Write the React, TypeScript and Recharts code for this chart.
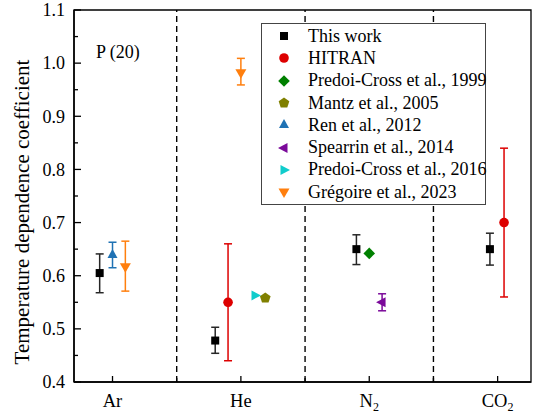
import React from 'react'
import {
  ComposedChart, Scatter, XAxis, YAxis, ErrorBar, ReferenceLine, ReferenceArea, Legend, Label,
} from 'recharts'

const FONT = '"Liberation Serif", "Times New Roman", serif'

// category positions on the x axis
const categories = ['Ar', 'He', 'N2', 'CO2']
const categoryX = [1, 2, 3, 4]
const separators = [1.5, 2.5, 3.5]
const xTicks = [1, 1.5, 2, 2.5, 3, 3.5, 4]
const yTicks = [0.4, 0.45, 0.5, 0.55, 0.6, 0.65, 0.7, 0.75, 0.8, 0.85, 0.9, 0.95, 1.0, 1.05, 1.1]

// series: x position, value, lower / upper error bound
const thisWorkX = [0.9, 1.8, 2.9, 3.94]
const thisWorkY = [0.605, 0.478, 0.65, 0.65]
const thisWorkLo = [0.568, 0.454, 0.621, 0.62]
const thisWorkHi = [0.641, 0.503, 0.677, 0.68]

const hitranX = [1.9, 4.05]
const hitranY = [0.55, 0.7]
const hitranLo = [0.44, 0.56]
const hitranHi = [0.66, 0.84]

const predoi1999X = [3.0]
const predoi1999Y = [0.642]

const mantzX = [2.19]
const mantzY = [0.558]

const renX = [1.0]
const renY = [0.639]
const renLo = [0.615]
const renHi = [0.663]

const spearrinX = [3.1]
const spearrinY = [0.55]
const spearrinLo = [0.534]
const spearrinHi = [0.566]

const predoi2016X = [2.11]
const predoi2016Y = [0.563]

const gregoireX = [1.1, 2.0]
const gregoireY = [0.617, 0.982]
const gregoireLo = [0.571, 0.959]
const gregoireHi = [0.665, 1.009]

type Pt = { x: number; y: number; err?: number[] }

const build = (xs: number[], ys: number[], lo?: number[], hi?: number[]): Pt[] =>
  xs.map((x, i) => ({
    x,
    y: ys[i],
    err: lo && hi ? [ys[i] - lo[i], hi[i] - ys[i]] : undefined,
  }))

type Kind = 'square' | 'circle' | 'diamond' | 'pentagon' | 'up' | 'left' | 'right' | 'down'

function MarkerShape({ kind, cx, cy, color }: { kind: Kind; cx: number; cy: number; color: string }) {
  const pts = (arr: number[][]) => arr.map(p => `${cx + p[0]},${cy + p[1]}`).join(' ')
  switch (kind) {
    case 'square':
      return <rect x={cx - 4} y={cy - 4} width={8} height={8} fill={color} />
    case 'circle':
      return <circle cx={cx} cy={cy} r={4.8} fill={color} />
    case 'diamond':
      return <polygon points={pts([[0, -5.8], [5.8, 0], [0, 5.8], [-5.8, 0]])} fill={color} />
    case 'pentagon': {
      const p = [0, 1, 2, 3, 4].map(i => {
        const a = -Math.PI / 2 + (i * 2 * Math.PI) / 5
        return [5.6 * Math.cos(a), 5.6 * Math.sin(a)]
      })
      return <polygon points={pts(p)} fill={color} />
    }
    case 'up':
      return <polygon points={pts([[0, -6], [5, 3], [-5, 3]])} fill={color} />
    case 'down':
      return <polygon points={pts([[0, 6], [5.5, -3.5], [-5.5, -3.5]])} fill={color} />
    case 'left':
      return <polygon points={pts([[-6, 0], [3.5, -5], [3.5, 5]])} fill={color} />
    case 'right':
      return <polygon points={pts([[6, 0], [-3.5, -5], [-3.5, 5]])} fill={color} />
  }
}

const series = [
  { name: 'This work', kind: 'square' as Kind, color: '#000000', bar: '#262626', data: build(thisWorkX, thisWorkY, thisWorkLo, thisWorkHi) },
  { name: 'HITRAN', kind: 'circle' as Kind, color: '#dd0000', bar: '#dd0000', data: build(hitranX, hitranY, hitranLo, hitranHi) },
  { name: 'Predoi-Cross et al., 1999', kind: 'diamond' as Kind, color: '#008000', bar: '#008000', data: build(predoi1999X, predoi1999Y) },
  { name: 'Mantz et al., 2005', kind: 'pentagon' as Kind, color: '#808000', bar: '#808000', data: build(mantzX, mantzY) },
  { name: 'Ren et al., 2012', kind: 'up' as Kind, color: '#1f72b4', bar: '#1f72b4', data: build(renX, renY, renLo, renHi) },
  { name: 'Spearrin et al., 2014', kind: 'left' as Kind, color: '#7b0a9a', bar: '#7b0a9a', data: build(spearrinX, spearrinY, spearrinLo, spearrinHi) },
  { name: 'Predoi-Cross et al., 2016', kind: 'right' as Kind, color: '#10cccc', bar: '#10cccc', data: build(predoi2016X, predoi2016Y) },
  { name: 'Grégoire et al., 2023', kind: 'down' as Kind, color: '#ff7f0e', bar: '#ff7f0e', data: build(gregoireX, gregoireY, gregoireLo, gregoireHi) },
]

const XTick = ({ x, y, payload }: any) => {
  const v = payload.value as number
  const idx = categoryX.indexOf(v)
  if (idx < 0) return <line x1={x} y1={y} x2={x} y2={y - 4} stroke="#000" strokeWidth={1.3} />
  const lab = categories[idx]
  const m = lab.match(/^([A-Za-z]+?)(\d*)$/)
  const main = m ? m[1] : lab
  const sub = m ? m[2] : ''
  return (
    <g>
      <line x1={x} y1={y} x2={x} y2={y - 6} stroke="#000" strokeWidth={1.3} />
      <text x={x} y={y + 25} textAnchor="middle" fontFamily={FONT} fontSize={18.5} fill="#000">
        {main}
        {sub && <tspan fontSize={12} dy={4}>{sub}</tspan>}
      </text>
    </g>
  )
}

const YTick = ({ x, y, payload }: any) => {
  const v = payload.value as number
  const major = Math.abs(v * 10 - Math.round(v * 10)) < 1e-6
  return (
    <g>
      <line x1={x} y1={y} x2={x + (major ? 7 : 4)} y2={y} stroke="#000" strokeWidth={1.3} />
      {major && (
        <text x={x - 9} y={y} dy="0.35em" textAnchor="end" fontFamily={FONT} fontSize={18} fill="#000">
          {v.toFixed(1)}
        </text>
      )}
    </g>
  )
}

const LegendBox = () => (
  <div style={{ border: '1px solid #444', background: '#fff', width: 223, padding: '1px 0', fontFamily: FONT, fontSize: 18 }}>
    {series.map(s => (
      <div key={s.name} style={{ display: 'flex', alignItems: 'center', height: 22.3, whiteSpace: 'nowrap' }}>
        <svg width={46} height={20} style={{ flex: 'none' }}>
          <MarkerShape kind={s.kind} cx={22} cy={10} color={s.color} />
        </svg>
        <span style={{ color: '#000' }}>{s.name}</span>
      </div>
    ))}
  </div>
)

export default function App() {
  return (
    <div style={{ position: 'absolute', left: 0, top: 0, background: '#fff' }}>
      <ComposedChart width={536} height={415} margin={{ top: 10, right: 5, bottom: 0, left: 0 }}>
        <XAxis
          type="number"
          dataKey="x"
          domain={[0.7, 4.26]}
          ticks={xTicks}
          allowDataOverflow
          tick={<XTick />}
          tickLine={false}
          tickSize={0}
          tickMargin={0}
          interval={0}
          height={33}
          axisLine={{ stroke: '#000', strokeWidth: 1.5 }}
        />
        <YAxis
          type="number"
          dataKey="y"
          domain={[0.4, 1.1]}
          ticks={yTicks}
          allowDataOverflow
          tick={<YTick />}
          tickLine={false}
          tickSize={0}
          tickMargin={0}
          interval={0}
          width={74}
          axisLine={{ stroke: '#000', strokeWidth: 1.5 }}
          label={{
            content: ({ viewBox }: any) => {
              const cx = viewBox.x + 22
              const cy = viewBox.y + viewBox.height / 2 + 16
              return (
                <text x={cx} y={cy} transform={`rotate(-90 ${cx} ${cy})`} textAnchor="middle" dy="0.35em"
                  fontFamily={FONT} fontSize={21} fill="#000">
                  Temperature dependence coefficient
                </text>
              )
            },
          }}
        />
        <ReferenceArea x1={0.7} x2={4.26} y1={0.4} y2={1.1} fill="none" fillOpacity={0} stroke="#000" strokeWidth={1.3}>
          <Label
            content={({ viewBox }: any) => (
              <text x={viewBox.x + 22} y={viewBox.y + 48} fontFamily={FONT} fontSize={18} fill="#000">P (20)</text>
            )}
          />
        </ReferenceArea>
        {separators.map(s => (
          <ReferenceLine key={s} x={s} stroke="#000" strokeWidth={1.4} strokeDasharray="6 4" />
        ))}
        {series.map(s => (
          <Scatter
            key={s.name}
            name={s.name}
            data={s.data}
            dataKey="y"
            fill={s.color}
            isAnimationActive={false}
            shape={(p: any) => <MarkerShape kind={s.kind} cx={p.cx} cy={p.cy} color={s.color} />}
          >
            {s.data.some(d => d.err) && (
              <ErrorBar dataKey="err" direction="y" width={4} stroke={s.bar} strokeWidth={1.5} />
            )}
          </Scatter>
        ))}
        <Legend
          layout="vertical"
          align="center"
          verticalAlign="middle"
          content={<LegendBox />}
          wrapperStyle={{ position: 'absolute', left: 261, top: 23, width: 'auto', height: 'auto' }}
        />
      </ComposedChart>
    </div>
  )
}
